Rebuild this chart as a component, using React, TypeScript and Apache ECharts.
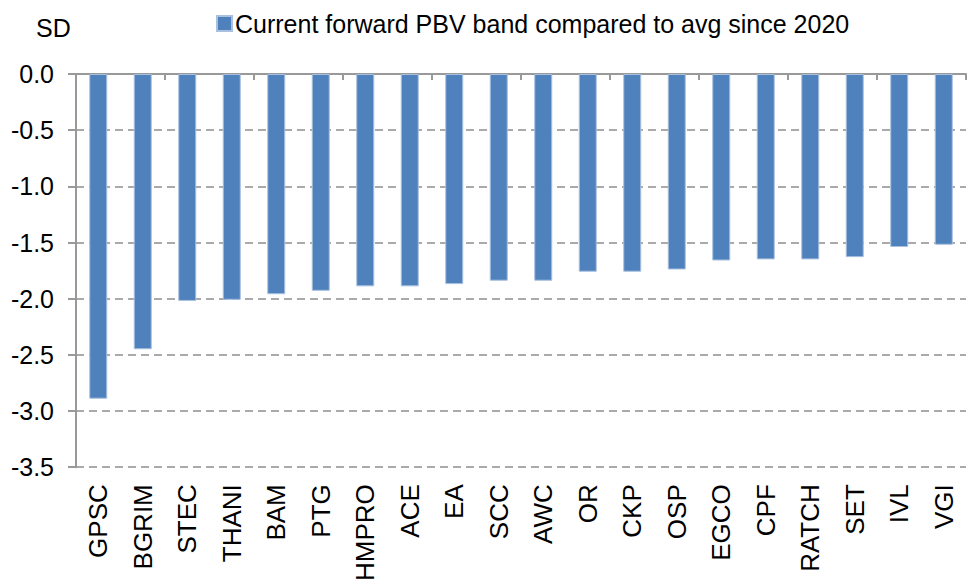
import React, { useEffect, useRef } from "react";
import * as echarts from "echarts";

const categories = ["GPSC", "BGRIM", "STEC", "THANI", "BAM", "PTG", "HMPRO", "ACE", "EA", "SCC", "AWC", "OR", "CKP", "OSP", "EGCO", "CPF", "RATCH", "SET", "IVL", "VGI"];
const sdValues = [-2.89, -2.45, -2.02, -2.01, -1.96, -1.93, -1.89, -1.89, -1.87, -1.84, -1.84, -1.76, -1.76, -1.74, -1.66, -1.65, -1.65, -1.63, -1.54, -1.52];
const seriesName = "Current forward PBV band compared to avg since 2020";
const yMin = -3.5;
const yMax = 0;
const yInterval = 0.5;

const FONT = "'Liberation Sans', Arial, sans-serif";

export default function App() {
  const ref = useRef<HTMLDivElement>(null);
  useEffect(() => {
    if (!ref.current) return;
    const chart = echarts.init(ref.current, undefined, { renderer: "svg" });
    chart.setOption({
      animation: false,
      backgroundColor: "#ffffff",
      textStyle: { fontFamily: FONT, color: "#000" },
      legend: {
        data: [seriesName],
        left: 211,
        top: 6,
        icon: "rect",
        itemWidth: 15,
        itemHeight: 15,
        itemGap: 4,
        textStyle: { fontSize: 25, color: "#000", fontFamily: FONT, padding: [0, 0, 0, -2] },
      },
      graphic: [
        {
          type: "text",
          left: 36,
          top: 15,
          style: { text: "SD", fontSize: 25, fill: "#000", fontFamily: FONT },
        },
      ],
      grid: { left: 76, right: 1, top: 74, bottom: 114, containLabel: false },
      xAxis: [
        {
          type: "category",
          data: categories,
          position: "top",
          axisLine: { show: true, onZero: false, lineStyle: { color: "#999", width: 2 } },
          axisTick: { show: true, inside: true, length: 6, lineStyle: { color: "#999", width: 2 } },
          axisLabel: { show: false },
        },
        {
          type: "category",
          data: categories,
          position: "bottom",
          axisLine: { show: false },
          axisTick: { show: false },
          axisLabel: {
            show: true,
            rotate: 90,
            fontSize: 26,
            color: "#000",
            fontFamily: FONT,
            margin: 17,
            interval: 0,
          },
        },
      ],
      yAxis: {
        type: "value",
        min: yMin,
        max: yMax,
        interval: yInterval,
        axisLine: { show: true, lineStyle: { color: "#999", width: 2 } },
        axisTick: { show: true, length: 8, lineStyle: { color: "#999", width: 2 } },
        axisLabel: {
          fontSize: 25,
          color: "#000",
          fontFamily: FONT,
          margin: 22,
          formatter: (v: number) => (Math.abs(v) < 1e-9 ? "0.0" : v.toFixed(1)),
        },
        splitLine: { show: true, lineStyle: { color: "#aaa", width: 2, type: [8, 5] } },
      },
      series: [
        {
          name: seriesName,
          type: "bar",
          xAxisIndex: 0,
          data: sdValues,
          barWidth: 18,
          itemStyle: { color: "#4F81BD", borderColor: "#a9c0df", borderWidth: 1 },
        },
      ],
    });
    return () => chart.dispose();
  }, []);
  return <div ref={ref} style={{ width: 967, height: 584, position: "absolute", left: 0, top: 0 }} />;
}
